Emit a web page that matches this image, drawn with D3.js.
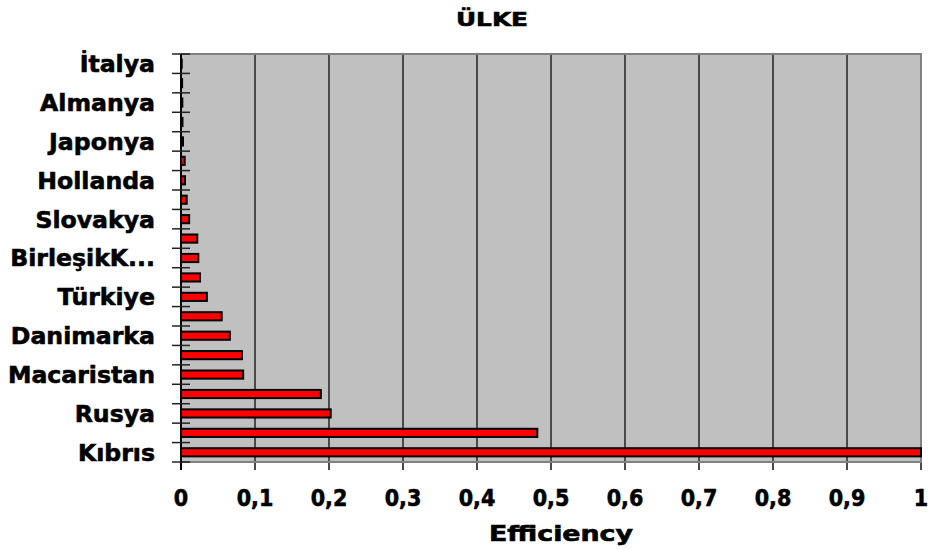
<!DOCTYPE html>
<html>
<head>
<meta charset="utf-8">
<script src="https://cdn.jsdelivr.net/npm/d3@7"></script>
<style>
  html, body { margin: 0; padding: 0; background: #ffffff; }
  svg { display: block; }
  text { font-family: "DejaVu Sans", sans-serif; font-weight: bold; fill: #000; stroke: #000; stroke-width: 0.6px; }
</style>
</head>
<body>
<svg id="chart" width="930" height="550"></svg>
<script>
// Categories top to bottom; only every other label is shown in the original chart (unknown names left empty)
const categories = ["İtalya", "", "Almanya", "", "Japonya", "", "Hollanda", "", "Slovakya", "",
  "BirleşikK...", "", "Türkiye", "", "Danimarka", "", "Macaristan", "", "Rusya", "", "Kıbrıs"];
const efficiency = [0.001, 0.0015, 0.0018, 0.002, 0.0027, 0.005, 0.0054, 0.0077, 0.011, 0.022,
  0.0234, 0.0257, 0.035, 0.055, 0.066, 0.0824, 0.084, 0.189, 0.2023, 0.4815, 1.0];
const xTicks = [0, 0.1, 0.2, 0.3, 0.4, 0.5, 0.6, 0.7, 0.8, 0.9, 1];
const xTickLabels = ["0", "0,1", "0,2", "0,3", "0,4", "0,5", "0,6", "0,7", "0,8", "0,9", "1"];
const title = "ÜLKE";
const xTitle = "Efficiency";

const svg = d3.select("#chart");
const L = 181, R = 921, T = 54, B = 462;

const x = d3.scaleLinear().domain([0, 1]).range([L, R]);
const y = d3.scaleBand().domain(d3.range(categories.length)).range([T, B]).paddingInner(0.58).paddingOuter(0.29);
const step = y.step();

// plot background
svg.append("rect").attr("x", L).attr("y", T).attr("width", R - L).attr("height", B - T)
  .attr("fill", "#c0c0c0");

// vertical gridlines (extend below as tick marks)
svg.append("g").selectAll("line").data(xTicks.slice(1)).join("line")
  .attr("x1", d => x(d)).attr("x2", d => x(d))
  .attr("y1", T).attr("y2", B + 8)
  .attr("stroke", "#4a4a4a").attr("stroke-width", 2);

// plot border (top/right/bottom)
svg.append("path")
  .attr("d", `M${L},${T}H${R}V${B}H${L}`)
  .attr("fill", "none").attr("stroke", "#808080").attr("stroke-width", 2);

// bars
svg.append("g").selectAll("rect").data(efficiency).join("rect")
  .attr("x", x(0))
  .attr("y", (d, i) => y(i))
  .attr("width", d => x(d) - x(0))
  .attr("height", y.bandwidth())
  .attr("fill", "#ff0000")
  .attr("stroke", "#000").attr("stroke-width", 2);

// left axis line
svg.append("line").attr("x1", L).attr("x2", L).attr("y1", T).attr("y2", B + 8)
  .attr("stroke", "#000").attr("stroke-width", 2);

// y tick marks at band boundaries (crossing)
const boundaries = d3.range(categories.length + 1).map(i => T + i * step);
svg.append("g").selectAll("line").data(boundaries).join("line")
  .attr("x1", L - 9).attr("x2", L + 9)
  .attr("y1", d => d).attr("y2", d => d)
  .attr("stroke", "#222").attr("stroke-width", 1.5);

// y labels
svg.append("g").selectAll("text").data(categories).join("text")
  .attr("x", 155)
  .attr("y", (d, i) => y(i) + y.bandwidth() / 2)
  .attr("dy", "0.36em")
  .attr("text-anchor", "end")
  .attr("font-size", 23.6)
  .text(d => d);

// x tick labels
svg.append("g").selectAll("text").data(xTicks).join("text")
  .attr("x", d => x(d))
  .attr("y", 506)
  .attr("text-anchor", "middle")
  .attr("font-size", 23)
  .text((d, i) => xTickLabels[i])
  .each(function () {
    const w = this.getComputedTextLength();
    d3.select(this).attr("textLength", w * 0.9).attr("lengthAdjust", "spacingAndGlyphs");
  });

// titles
svg.append("text").attr("x", 492).attr("y", 26).attr("text-anchor", "middle")
  .attr("font-size", 19).attr("textLength", 72).attr("lengthAdjust", "spacingAndGlyphs").text(title);
svg.append("text").attr("x", 561).attr("y", 541).attr("text-anchor", "middle")
  .attr("font-size", 21).attr("textLength", 144).attr("lengthAdjust", "spacingAndGlyphs").text(xTitle);
</script>
</body>
</html>
